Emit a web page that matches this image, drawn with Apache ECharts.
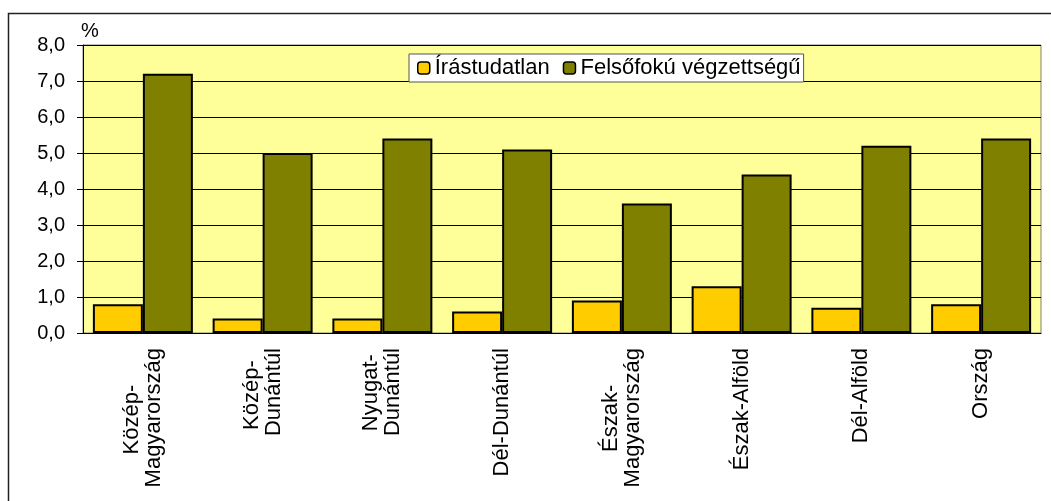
<!DOCTYPE html>
<html>
<head>
<meta charset="utf-8">
<script src="https://cdn.jsdelivr.net/npm/echarts@6/dist/echarts.min.js"></script>
<style>
  html, body { margin: 0; padding: 0; background: #fff; }
  #main { width: 1051px; height: 501px; }
</style>
</head>
<body>
<div id="main"></div>
<script>
// régiók és értékek (%)
var categories = ['Közép-\nMagyarország', 'Közép-\nDunántúl', 'Nyugat-\nDunántúl', 'Dél-Dunántúl',
  'Észak-\nMagyarország', 'Észak-Alföld', 'Dél-Alföld', 'Ország']
var irastudatlan = [0.8, 0.4, 0.4, 0.6, 0.9, 1.3, 0.7, 0.8]
var felsofoku = [7.2, 5.0, 5.4, 5.1, 3.6, 4.4, 5.2, 5.4]
var yTicks = [0, 8, 1] // min, max, interval

var font = 'Arial, "Liberation Sans", sans-serif'
var xFontSize = 22

// a rövidebb sort szóközökkel toljuk középre (Excel-szerű elforgatott címke);
// a záró \u200B miatt a szóközök nem vágódnak le
var ctx = document.createElement('canvas').getContext('2d')
ctx.font = xFontSize + 'px ' + font
var spaceW = ctx.measureText(' ').width
var xLabels = categories.map(function (cat) {
  var lines = cat.split('\n')
  var widths = lines.map(function (s) { return ctx.measureText(s).width })
  var maxW = Math.max.apply(null, widths)
  return lines.map(function (s, j) {
    var n = Math.round((maxW - widths[j]) / 2 / spaceW)
    return n > 0 ? s + new Array(n + 1).join(' ') + '\u200B' : s
  }).join('\n')
})

var myChart = echarts.init(document.getElementById('main'))
var option = {
  animation: false,
  backgroundColor: '#fff',
  textStyle: { fontFamily: font, color: '#000' },
  graphic: [
    {
      type: 'rect',
      shape: { x: 8.5, y: 13.5, width: 1100, height: 600 },
      style: { fill: 'none', stroke: '#222', lineWidth: 1.5 },
      z: 100
    }
  ],
  grid: {
    left: 83,
    top: 45,
    right: 10,
    bottom: 168,
    show: true,
    backgroundColor: '#FFFF99',
    borderColor: '#808080',
    borderWidth: 1
  },
  legend: {
    left: 409,
    top: 54,
    padding: [3, 3, 3, 8],
    itemWidth: 12,
    itemHeight: 12,
    itemGap: 13,
    backgroundColor: '#fff',
    borderColor: '#555',
    borderWidth: 1,
    borderRadius: 0,
    textStyle: { fontFamily: font, fontSize: 22, color: '#000' },
    itemStyle: { borderColor: '#000', borderWidth: 1.5 },
    data: ['Írástudatlan', 'Felsőfokú végzettségű']
  },
  xAxis: {
    type: 'category',
    data: categories,
    axisLine: { lineStyle: { color: '#000', width: 1 } },
    axisTick: { length: 6, lineStyle: { color: '#666' } },
    axisLabel: {
      rotate: 90,
      margin: 15,
      color: '#000',
      fontSize: xFontSize,
      formatter: function (v, i) { return xLabels[i] }
    }
  },
  yAxis: {
    type: 'value',
    min: yTicks[0],
    max: yTicks[1],
    interval: yTicks[2],
    name: '%',
    nameLocation: 'end',
    nameGap: 4,
    nameTextStyle: { fontFamily: font, fontSize: 20, color: '#000', align: 'left', padding: [0, 0, 0, -2] },
    axisLine: { show: true, lineStyle: { color: '#000', width: 1 } },
    axisTick: { show: true, length: 6, lineStyle: { color: '#000' } },
    splitLine: { lineStyle: { color: '#000', width: 1 } },
    axisLabel: {
      margin: 18,
      color: '#000',
      fontFamily: font,
      fontSize: 20,
      formatter: function (v) { return v.toFixed(1).replace('.', ',') }
    }
  },
  series: [
    {
      name: 'Írástudatlan',
      type: 'bar',
      data: irastudatlan,
      barGap: '0%',
      barCategoryGap: '16.5%',
      itemStyle: { color: '#FFCC00', borderColor: '#000', borderWidth: 2 }
    },
    {
      name: 'Felsőfokú végzettségű',
      type: 'bar',
      data: felsofoku,
      barGap: '0%',
      barCategoryGap: '16.5%',
      itemStyle: { color: '#808000', borderColor: '#000', borderWidth: 2 }
    }
  ]
}
myChart.setOption(option)
</script>
</body>
</html>
